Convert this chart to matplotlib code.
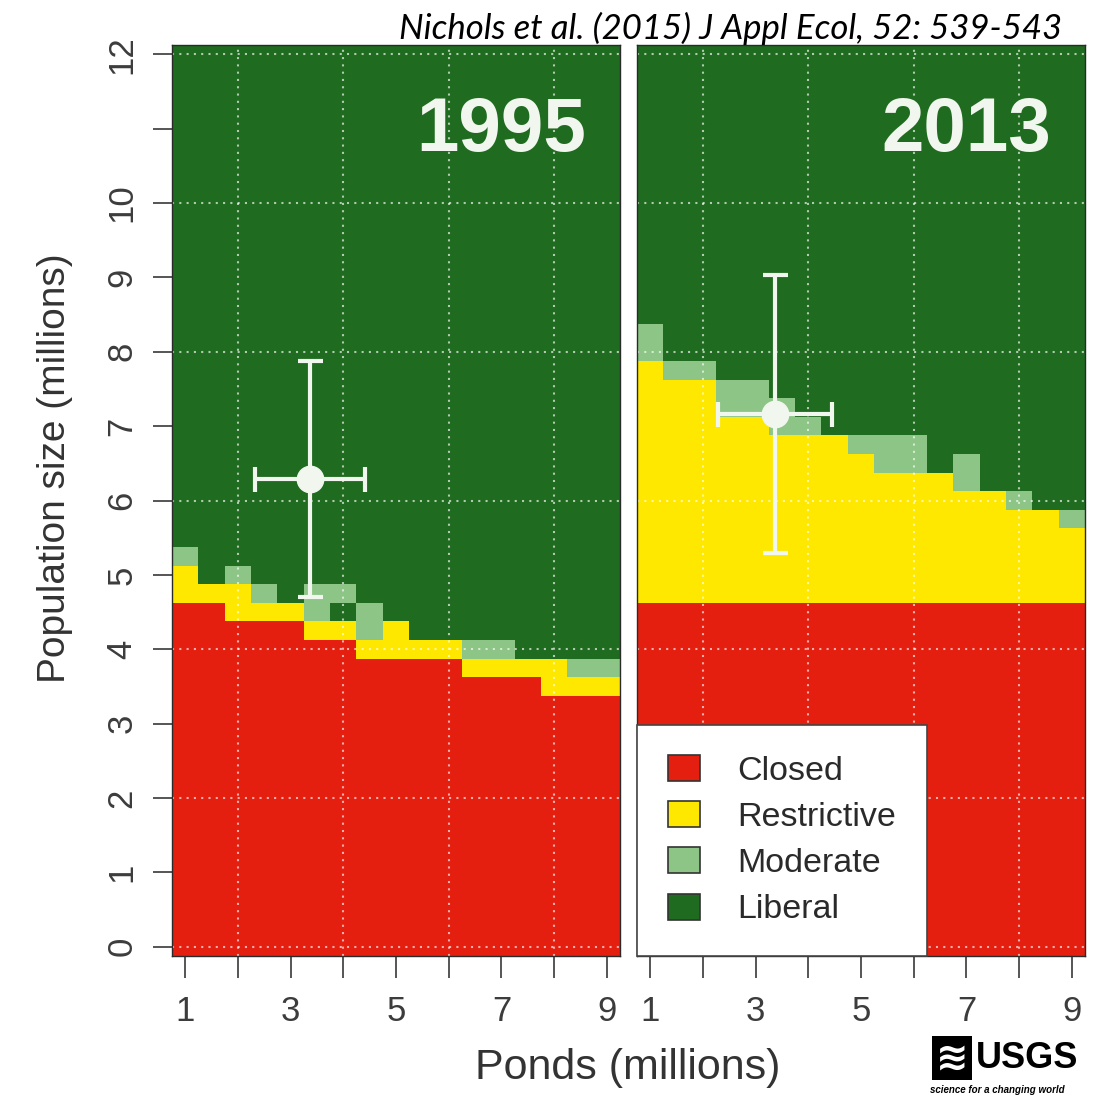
import matplotlib.pyplot as plt
import numpy as np
from matplotlib.colors import ListedColormap
from matplotlib.patches import Patch, Rectangle

plt.rcParams['font.family'] = ['Liberation Sans', 'DejaVu Sans']

# policy colours: closed, restrictive, moderate, liberal
CLASSES = ['Closed', 'Restrictive', 'Moderate', 'Liberal']
COLORS = ['#e41f10', '#ffe800', '#8cc585', '#1f6b1f']

# ponds (millions), cell centres of the decision grid
ponds = [1, 1.5, 2, 2.5, 3, 3.5, 4, 4.5, 5, 5.5, 6, 6.5, 7, 7.5, 8, 8.5, 9]
# population size (millions), cell centres
pop = np.arange(0, 12.01, 0.25)

# 1995 policy boundaries (upper edge of each class per pond column)
closed_95 = [4.625, 4.625, 4.375, 4.375, 4.375, 4.125, 4.125, 3.875, 3.875,
             3.875, 3.875, 3.625, 3.625, 3.625, 3.375, 3.375, 3.375]
restr_95 = [5.125, 4.875, 4.875, 4.625, 4.625, 4.375, 4.375, 4.125, 4.375,
            4.125, 4.125, 3.875, 3.875, 3.875, 3.875, 3.625, 3.625]
modlo_95 = [5.125, 4.875, 4.875, 4.625, 4.625, 4.375, 4.625, 4.125, 4.375,
            4.125, 4.125, 3.875, 3.875, 3.875, 3.875, 3.625, 3.625]
modhi_95 = [5.375, 4.875, 5.125, 4.875, 4.625, 4.875, 4.875, 4.625, 4.375,
            4.125, 4.125, 4.125, 4.125, 3.875, 3.875, 3.875, 3.875]

# 2013 policy boundaries
closed_13 = [4.625] * 17
restr_13 = [7.875, 7.625, 7.625, 7.125, 7.125, 6.875, 6.875, 6.875, 6.625,
            6.375, 6.375, 6.375, 6.125, 6.125, 5.875, 5.875, 5.625]
modlo_13 = restr_13
modhi_13 = [8.375, 7.875, 7.875, 7.625, 7.625, 7.375, 7.125, 6.875, 6.875,
            6.875, 6.875, 6.375, 6.625, 6.125, 6.125, 5.875, 5.875]

# observed state (ponds, population) with uncertainty
obs_95 = dict(x=3.37, y=6.29, xerr=1.04, yerr=1.59)
obs_13 = dict(x=3.37, y=7.16, xerr=1.08, yerr=1.87)

years = ['1995', '2013']
xticks = [1, 2, 3, 4, 5, 6, 7, 8, 9]
xticklabels = ['1', '', '3', '', '5', '', '7', '', '9']
yticks = list(range(13))
yticklabels = ['0', '1', '2', '3', '4', '5', '6', '7', '8', '9', '10', '', '12']
grid_x = [2, 4, 6, 8]
grid_y = [0, 2, 4, 6, 8, 10, 12]


def policy_grid(closed, restr, modlo, modhi):
    g = np.full((len(pop), len(ponds)), 3)
    for j in range(len(ponds)):
        for i, p in enumerate(pop):
            if p < closed[j]:
                g[i, j] = 0
            elif p < restr[j]:
                g[i, j] = 1
            elif modlo[j] <= p < modhi[j]:
                g[i, j] = 2
    return g


W, H = 1094, 1100
fig = plt.figure(figsize=(W / 100, H / 100), dpi=100)
ax1 = fig.add_axes([172 / W, 1 - 956 / H, 448 / W, 911 / H])
ax2 = fig.add_axes([637 / W, 1 - 956 / H, 448 / W, 911 / H])

cmap = ListedColormap(COLORS)
panels = [
    (ax1, policy_grid(closed_95, restr_95, modlo_95, modhi_95), obs_95, years[0]),
    (ax2, policy_grid(closed_13, restr_13, modlo_13, modhi_13), obs_13, years[1]),
]
tick_col = '#3c3c3c'
for ax, grid, obs, yr in panels:
    ax.imshow(grid, cmap=cmap, vmin=-0.5, vmax=3.5, origin='lower', aspect='auto',
              interpolation='nearest', extent=(0.75, 9.25, -0.125, 12.125), zorder=0)
    for gx in grid_x:
        ax.axvline(gx, color='white', alpha=0.65, lw=1.5, ls=(0, (1, 2.5)), zorder=1)
    for gy in grid_y:
        ax.axhline(gy, color='white', alpha=0.65, lw=1.5, ls=(0, (1, 2.5)), zorder=1)
    ax.errorbar(obs['x'], obs['y'], xerr=obs['xerr'], yerr=obs['yerr'], fmt='o',
                color='#f1f6ee', ms=19, elinewidth=3, capsize=9, capthick=3, zorder=3)
    ax.text(0.735, 0.905, yr, transform=ax.transAxes, ha='center', va='center',
            fontsize=55, fontweight='bold', color='#f1f6ee', zorder=4)
    ax.set_xlim(0.75, 9.25)
    ax.set_ylim(-0.125, 12.125)
    ax.set_xticks(xticks)
    ax.set_xticklabels(xticklabels)
    ax.tick_params(axis='x', length=16, width=1.4, color='#555555', pad=12,
                   labelsize=25, labelcolor=tick_col)
    for s in ax.spines.values():
        s.set_color('#2a2a2a')
        s.set_linewidth(1.0)

ax1.set_yticks(yticks)
ax1.set_yticklabels(yticklabels, rotation=90, va='center')
ax1.tick_params(axis='y', length=14, width=1.4, color='#555555', pad=10,
                labelsize=25, labelcolor=tick_col)
ax2.set_yticks([])

handles = [Patch(facecolor=c, edgecolor='#333333', linewidth=1.2) for c in COLORS]
leg = ax2.legend(handles, CLASSES, loc='lower left', bbox_to_anchor=(0, 0),
                 borderaxespad=0, fontsize=24.5, frameon=True, fancybox=False,
                 handlelength=0.95, handleheight=0.8, handletextpad=1.1,
                 labelspacing=0.42, borderpad=0.9)
leg.get_frame().set_edgecolor('#444444')
leg.get_frame().set_linewidth(1.2)
leg.get_frame().set_alpha(1)
leg.set_zorder(5)
for t in leg.get_texts():
    t.set_color('#2a2a2a')

fig.text(55 / W, 1 - 468 / H, 'Population size (millions)', rotation=90,
         ha='center', va='center', fontsize=28, color='#333333')
fig.text(628 / W, 1 - 1068 / H, 'Ponds (millions)', ha='center', va='center',
         fontsize=31, color='#333333')
fig.text(1062 / W, 1 - 28 / H, 'Nichols et al. (2015) J Appl Ecol, 52: 539-543',
         ha='right', va='center', fontsize=25, style='italic', family='Lato')

# USGS logo (kept fully inside the figure)
fig.patches.append(Rectangle((932 / W, 1 - 1080 / H), 40 / W, 44 / H,
                             transform=fig.transFigure, facecolor='black',
                             edgecolor='none'))
fig.text(952 / W, 1 - 1058 / H, '≋', ha='center', va='center', fontsize=28,
         color='white', fontweight='bold', family='DejaVu Sans')
fig.text(976 / W, 1 - 1059 / H, 'USGS', ha='left', va='center', fontsize=26,
         fontweight='bold', color='black')
fig.text(930 / W, 1 - 1090 / H, 'science for a changing world', ha='left',
         va='center', fontsize=7, style='italic', fontweight='bold', color='black')

fig.savefig('out.png', dpi=100)
